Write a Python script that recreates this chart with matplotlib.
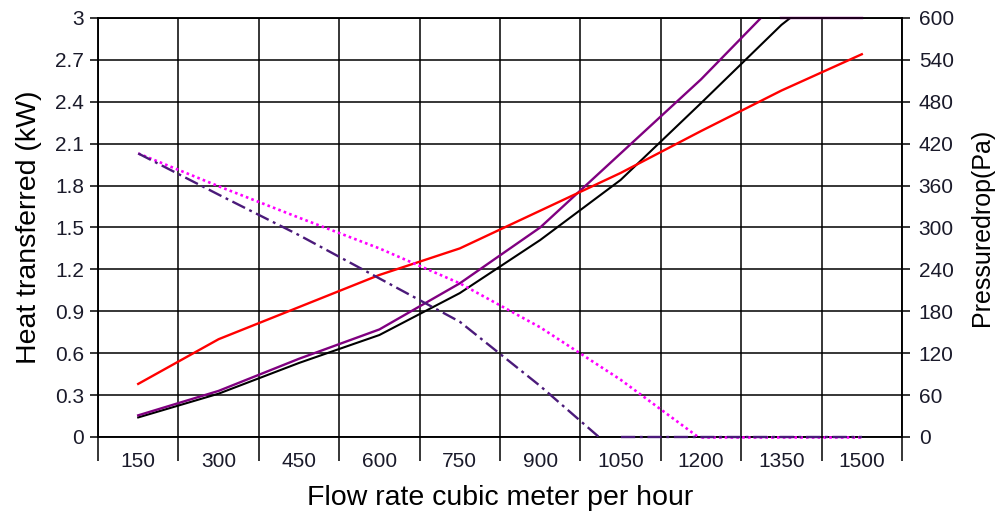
import numpy as np
import matplotlib.pyplot as plt

# flow rate categories (m3/h)
flow = [150, 300, 450, 600, 750, 900, 1050, 1200, 1350, 1500]

# heat transferred (kW) - left axis
heat_red = [0.38, 0.70, 0.93, 1.16, 1.35, 1.62, 1.89, 2.19, 2.48, 2.74]
heat_black = [0.14, 0.31, 0.53, 0.73, 1.03, 1.41, 1.84, 2.39, 2.95, 3.40]
heat_purple = [0.155, 0.33, 0.56, 0.77, 1.10, 1.50, 2.03, 2.56, 3.15, 3.70]

# pressure drop (Pa) - right axis
dp_dotted = [406, 359, 314, 270, 220, 157, 82, -3, -90, -180]
dp_dashdot = [406, 347, 289, 227, 165, 73, -27, -110, -190, -270]

plt.rcParams['font.family'] = ['Liberation Sans', 'DejaVu Sans']

fig = plt.figure(figsize=(10, 5.18), dpi=100)
ax = fig.add_axes([0.098, 0.1564, 0.804, 0.809])
ax2 = ax.twinx()

x = np.arange(len(flow))
tick_col = '#1a1a2a'
dashdot = (0, (6, 2, 1.2, 2))


def edge_line(a, xs, ys, lo, hi, **kw):
    # Excel style: values beyond the axis range run along the edge
    ys = np.asarray(ys, float)
    a.plot(xs, np.where(ys >= hi, hi, np.nan), clip_on=False, **kw)
    a.plot(xs, np.where(ys <= lo, lo, np.nan), clip_on=False, **kw)


ax.plot(x, heat_black, color='black', lw=1.5, zorder=3)
ax.plot(x, heat_purple, color='#800080', lw=1.7, zorder=3)
ax.plot(x, heat_red, color='#ff0000', lw=1.7, zorder=4)
edge_line(ax, x, heat_black, 0, 3, color='black', lw=1.5, zorder=3)
edge_line(ax, x, heat_purple, 0, 3, color='#800080', lw=1.7, zorder=3)

ax2.plot(x, dp_dotted, color='#ff00ff', lw=1.9, ls=(0, (1, 1.2)), zorder=3)
ax2.plot(x, dp_dashdot, color='#4b1a7a', lw=1.7, ls=dashdot, zorder=3)
edge_line(ax2, x, dp_dotted, 0, 600, color='#ff00ff', lw=1.9, ls=(0, (1, 1.2)), zorder=3)
edge_line(ax2, x, dp_dashdot, 0, 600, color='#4b1a7a', lw=1.7, ls=dashdot, zorder=3)

ax.set_xlim(-0.5, len(flow) - 0.5)
ax.set_ylim(0, 3)
ax2.set_ylim(0, 600)

ax.set_xticks(x)
ax.set_xticklabels([str(f) for f in flow])
ax.set_xticks(np.arange(-0.5, len(flow)), minor=True)
ax.set_yticks(np.arange(0, 3.01, 0.3))
ax.set_yticklabels(['0'] + ['%.1f' % v for v in np.arange(0.3, 3.01, 0.3)[:-1]] + ['3'])
ax2.set_yticks(np.arange(0, 601, 60))

ax.tick_params(axis='x', which='major', length=0, pad=11, labelsize=15, labelcolor=tick_col)
ax.tick_params(axis='x', which='minor', length=17, width=1.1, color='black', direction='out')
ax.tick_params(axis='y', length=6, width=1.1, color='black', pad=4, labelsize=15, labelcolor=tick_col)
ax2.tick_params(axis='y', length=6, width=1.1, color='black', pad=6, labelsize=15, labelcolor=tick_col)

ax.grid(which='minor', axis='x', color='black', lw=1.1)
ax.grid(which='major', axis='y', color='black', lw=1.1)
ax.set_axisbelow(True)

for a in (ax, ax2):
    for s in a.spines.values():
        s.set_color('black')
        s.set_linewidth(1.1)

ax.set_xlabel('Flow rate cubic meter per hour', fontsize=20.5, labelpad=10)
ax.set_ylabel('Heat transferred (kW)', fontsize=20.5, labelpad=9)
ax2.set_ylabel('Pressuredrop(Pa)', fontsize=18, labelpad=12)

fig.savefig('out.png', dpi=100, facecolor='white')
